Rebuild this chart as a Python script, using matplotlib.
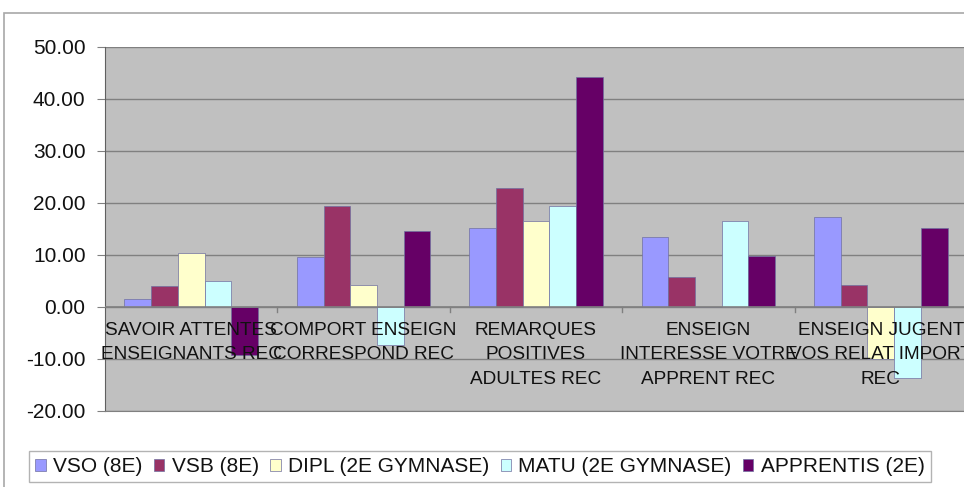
import numpy as np
import matplotlib
matplotlib.use("Agg")
import matplotlib.pyplot as plt
from matplotlib.patches import Rectangle

plt.rcParams['font.family'] = ['Liberation Sans', 'DejaVu Sans']

categories = ["SAVOIR ATTENTES\nENSEIGNANTS REC",
              "COMPORT ENSEIGN\nCORRESPOND REC",
              "REMARQUES\nPOSITIVES\nADULTES REC",
              "ENSEIGN\nINTERESSE VOTRE\nAPPRENT REC",
              "ENSEIGN JUGENT\nVOS RELAT IMPORT\nREC"]
series = ["VSO (8E)", "VSB (8E)", "DIPL (2E GYMNASE)", "MATU (2E GYMNASE)", "APPRENTIS (2E)"]
vso = [1.6, 9.6, 15.1, 13.5, 17.4]
vsb = [4.0, 19.4, 22.8, 5.8, 4.2]
dipl = [10.3, 4.3, 16.6, 0.0, -10.0]
matu = [5.0, -7.4, 19.5, 16.6, -13.7]
apprentis = [-9.3, 14.6, 44.2, 9.9, 15.1]
colors = ['#9999FF', '#993366', '#FFFFCC', '#CCFFFF', '#660066']
yticks = [50, 40, 30, 20, 10, 0, -10, -20]

fig = plt.figure(figsize=(9.64, 4.87), dpi=100)
fig.patches.append(Rectangle((4 / 964, -0.1), 1.1, 0.1 + 1 - 13 / 487,
                             transform=fig.transFigure, fill=False,
                             edgecolor='#A8A8A8', lw=1.2))

ax = fig.add_axes([105 / 964, 1 - 411 / 487, (967 - 105) / 964, (411 - 47) / 487])
ax.set_facecolor('#C0C0C0')

x = np.arange(len(categories))
w = 0.155
data = [vso, vsb, dipl, matu, apprentis]
for k, (vals, c, name) in enumerate(zip(data, colors, series)):
    ax.bar(x + (k - 2) * w, vals, w, color=c, edgecolor='#7070A0', lw=0.5,
           label=name, zorder=3)

ax.set_xlim(-0.5, 4.5)
ax.set_ylim(-20, 50)
ax.set_yticks(yticks)
ax.set_yticklabels(["%.2f" % v for v in yticks], fontsize=15, color='#111111')
ax.grid(axis='y', color='#808080', lw=1.0, zorder=1)
ax.axhline(0, color='#808080', lw=1.2, zorder=4)
ax.set_xticks([])
for s in ['top', 'right']:
    ax.spines[s].set_visible(False)
ax.spines['bottom'].set_color('#808080')
ax.spines['left'].set_color('#606060')
ax.tick_params(axis='y', length=6, color='#808080', pad=8)

for xs in [0.5, 1.5, 2.5, 3.5]:
    ax.plot([xs, xs], [0, -0.9], color='#808080', lw=1, zorder=4)

for i, lab in enumerate(categories):
    ax.text(i, -2.8, lab, ha='center', va='top', fontsize=13.7,
            linespacing=1.6, color='#111111', zorder=5)

leg = fig.legend(loc='center', bbox_to_anchor=(480 / 964, 1 - 466.5 / 487),
                 ncol=5, fontsize=15, frameon=True, fancybox=False,
                 edgecolor='#A0A0A0', handlelength=0.5, handleheight=0.5,
                 handletextpad=0.35, columnspacing=0.55, borderpad=0.3)
leg.get_frame().set_linewidth(1.0)
for t in leg.get_texts():
    t.set_color('#111111')

fig.savefig('out.png', dpi=100)
